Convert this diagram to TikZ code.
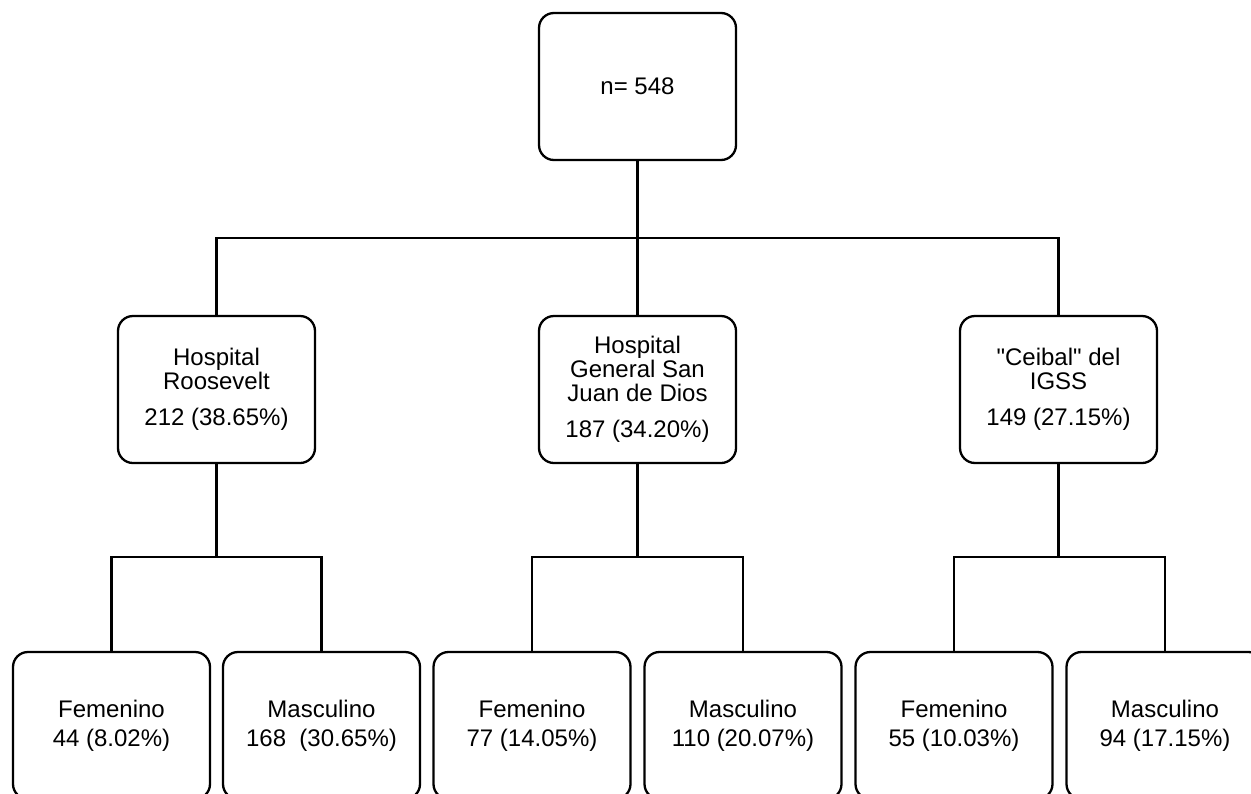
\documentclass[tikz,border=0pt]{standalone}
\usepackage{fontspec}
\setmainfont{Liberation Sans}
\newfontfamily\qfont{Liberation Sans}
\newcommand{\sq}{{\qfont"}}
\begin{document}
\begin{tikzpicture}[x=1pt,y=-1pt,
  box/.style={draw=black, line width=2.3pt, rounded corners=15pt, fill=white,
    minimum width=197pt, minimum height=147pt, inner sep=0pt, align=center,
    font=\fontsize{24}{24}\selectfont},
  link/.style={draw=black, line width=2.3pt}]
\useasboundingbox (0,0) rectangle (1251,793);
\clip (0,0) rectangle (1251,793);
\fill[white] (0,0) rectangle (1251,793);
% top
\node[box] (top) at (637.5,86.5) {n= 548};
% middle level
\node[box] (h1) at (216.5,389.5) {Hospital\\Roosevelt\\[12pt]212 (38.65\%)};
\node[box] (h2) at (637.5,389.5) {Hospital\\General San\\Juan de Dios\\[12pt]187 (34.20\%)};
\node[box] (h3) at (1058.5,389.5) {\sq Ceibal\sq{} del\\IGSS\\[12pt]149 (27.15\%)};
% bottom level
\node[box] (f1) at (111.5,725.5) {Femenino\\[5pt]44 (8.02\%)};
\node[box] (m1) at (321.5,725.5) {Masculino\\[5pt]168\ \ (30.65\%)};
\node[box] (f2) at (532,725.5) {Femenino\\[5pt]77 (14.05\%)};
\node[box] (m2) at (743,725.5) {Masculino\\[5pt]110 (20.07\%)};
\node[box] (f3) at (954,725.5) {Femenino\\[5pt]55 (10.03\%)};
\node[box] (m3) at (1165,725.5) {Masculino\\[5pt]94 (17.15\%)};
% bus coordinates
\coordinate (b0) at (637.5,238);
\coordinate (b1) at (216.5,557);
\coordinate (b2) at (637.5,557);
\coordinate (b3) at (1058.5,557);
% connectors
\draw[link] (top.south) -- (h2.north);
\draw[link] (b0) -| (h1.north);
\draw[link] (b0) -| (h3.north);
\draw[link] (h1.south) -- (b1);
\draw[link] (b1) -| (f1.north);
\draw[link] (b1) -| (m1.north);
\draw[link] (h2.south) -- (b2);
\draw[link] (b2) -| (f2.north);
\draw[link] (b2) -| (m2.north);
\draw[link] (h3.south) -- (b3);
\draw[link] (b3) -| (f3.north);
\draw[link] (b3) -| (m3.north);
\end{tikzpicture}
\end{document}
